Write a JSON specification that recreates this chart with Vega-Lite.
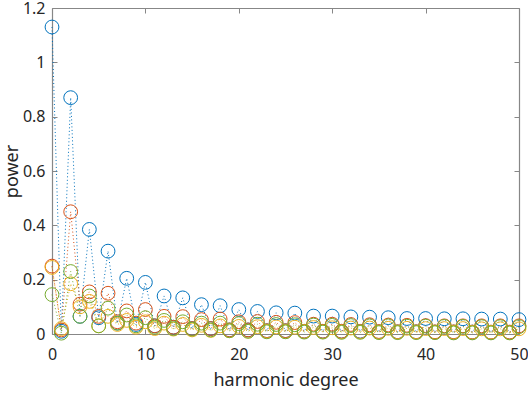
{
  "$schema": "https://vega.github.io/schema/vega-lite/v6.json",
  "width": 467,
  "height": 326,
  "autosize": {"type": "none"},
  "padding": {"left": 52, "top": 8, "right": 9, "bottom": 59},
  "background": "white",
  "datasets": {
    "power": [
      {"d":0,"s":"1","p":1.13},{"d":1,"s":"1","p":0.01},{"d":2,"s":"1","p":0.87},{"d":3,"s":"1","p":0.065},{"d":4,"s":"1","p":0.385},{"d":5,"s":"1","p":0.06},{"d":6,"s":"1","p":0.305},{"d":7,"s":"1","p":0.04},{"d":8,"s":"1","p":0.205},{"d":9,"s":"1","p":0.035},{"d":10,"s":"1","p":0.19},{"d":11,"s":"1","p":0.03},{"d":12,"s":"1","p":0.14},{"d":13,"s":"1","p":0.025},{"d":14,"s":"1","p":0.133},{"d":15,"s":"1","p":0.02},{"d":16,"s":"1","p":0.108},{"d":17,"s":"1","p":0.02},{"d":18,"s":"1","p":0.104},{"d":19,"s":"1","p":0.015},{"d":20,"s":"1","p":0.09},{"d":21,"s":"1","p":0.015},{"d":22,"s":"1","p":0.083},{"d":23,"s":"1","p":0.012},{"d":24,"s":"1","p":0.078},{"d":25,"s":"1","p":0.012},{"d":26,"s":"1","p":0.077},{"d":27,"s":"1","p":0.01},{"d":28,"s":"1","p":0.066},{"d":29,"s":"1","p":0.01},{"d":30,"s":"1","p":0.066},{"d":31,"s":"1","p":0.01},{"d":32,"s":"1","p":0.063},{"d":33,"s":"1","p":0.01},{"d":34,"s":"1","p":0.062},{"d":35,"s":"1","p":0.008},{"d":36,"s":"1","p":0.06},{"d":37,"s":"1","p":0.008},{"d":38,"s":"1","p":0.057},{"d":39,"s":"1","p":0.008},{"d":40,"s":"1","p":0.057},{"d":41,"s":"1","p":0.007},{"d":42,"s":"1","p":0.056},{"d":43,"s":"1","p":0.007},{"d":44,"s":"1","p":0.056},{"d":45,"s":"1","p":0.007},{"d":46,"s":"1","p":0.055},{"d":47,"s":"1","p":0.006},{"d":48,"s":"1","p":0.055},{"d":49,"s":"1","p":0.006},{"d":50,"s":"1","p":0.053},
      {"d":0,"s":"2","p":0.25},{"d":1,"s":"2","p":0.015},{"d":2,"s":"2","p":0.45},{"d":3,"s":"2","p":0.11},{"d":4,"s":"2","p":0.155},{"d":5,"s":"2","p":0.065},{"d":6,"s":"2","p":0.15},{"d":7,"s":"2","p":0.045},{"d":8,"s":"2","p":0.085},{"d":9,"s":"2","p":0.04},{"d":10,"s":"2","p":0.09},{"d":11,"s":"2","p":0.03},{"d":12,"s":"2","p":0.065},{"d":13,"s":"2","p":0.025},{"d":14,"s":"2","p":0.064},{"d":15,"s":"2","p":0.02},{"d":16,"s":"2","p":0.053},{"d":17,"s":"2","p":0.02},{"d":18,"s":"2","p":0.055},{"d":19,"s":"2","p":0.015},{"d":20,"s":"2","p":0.045},{"d":21,"s":"2","p":0.015},{"d":22,"s":"2","p":0.046},{"d":23,"s":"2","p":0.012},{"d":24,"s":"2","p":0.043},{"d":25,"s":"2","p":0.012},{"d":26,"s":"2","p":0.042},{"d":27,"s":"2","p":0.01},{"d":28,"s":"2","p":0.036},{"d":29,"s":"2","p":0.01},{"d":30,"s":"2","p":0.036},{"d":31,"s":"2","p":0.01},{"d":32,"s":"2","p":0.035},{"d":33,"s":"2","p":0.009},{"d":34,"s":"2","p":0.034},{"d":35,"s":"2","p":0.009},{"d":36,"s":"2","p":0.033},{"d":37,"s":"2","p":0.008},{"d":38,"s":"2","p":0.032},{"d":39,"s":"2","p":0.008},{"d":40,"s":"2","p":0.031},{"d":41,"s":"2","p":0.008},{"d":42,"s":"2","p":0.03},{"d":43,"s":"2","p":0.008},{"d":44,"s":"2","p":0.03},{"d":45,"s":"2","p":0.007},{"d":46,"s":"2","p":0.03},{"d":47,"s":"2","p":0.007},{"d":48,"s":"2","p":0.03},{"d":49,"s":"2","p":0.007},{"d":50,"s":"2","p":0.03},
      {"d":0,"s":"3","p":0.245},{"d":1,"s":"3","p":0.02},{"d":2,"s":"3","p":0.185},{"d":3,"s":"3","p":0.1},{"d":4,"s":"3","p":0.12},{"d":5,"s":"3","p":0.03},{"d":6,"s":"3","p":0.065},{"d":7,"s":"3","p":0.035},{"d":8,"s":"3","p":0.05},{"d":9,"s":"3","p":0.025},{"d":10,"s":"3","p":0.045},{"d":11,"s":"3","p":0.02},{"d":12,"s":"3","p":0.04},{"d":13,"s":"3","p":0.018},{"d":14,"s":"3","p":0.035},{"d":15,"s":"3","p":0.015},{"d":16,"s":"3","p":0.032},{"d":17,"s":"3","p":0.013},{"d":18,"s":"3","p":0.03},{"d":19,"s":"3","p":0.012},{"d":20,"s":"3","p":0.028},{"d":21,"s":"3","p":0.01},{"d":22,"s":"3","p":0.027},{"d":23,"s":"3","p":0.01},{"d":24,"s":"3","p":0.026},{"d":25,"s":"3","p":0.009},{"d":26,"s":"3","p":0.025},{"d":27,"s":"3","p":0.009},{"d":28,"s":"3","p":0.024},{"d":29,"s":"3","p":0.008},{"d":30,"s":"3","p":0.023},{"d":31,"s":"3","p":0.008},{"d":32,"s":"3","p":0.022},{"d":33,"s":"3","p":0.008},{"d":34,"s":"3","p":0.022},{"d":35,"s":"3","p":0.007},{"d":36,"s":"3","p":0.021},{"d":37,"s":"3","p":0.007},{"d":38,"s":"3","p":0.021},{"d":39,"s":"3","p":0.007},{"d":40,"s":"3","p":0.02},{"d":41,"s":"3","p":0.006},{"d":42,"s":"3","p":0.02},{"d":43,"s":"3","p":0.006},{"d":44,"s":"3","p":0.02},{"d":45,"s":"3","p":0.006},{"d":46,"s":"3","p":0.019},{"d":47,"s":"3","p":0.006},{"d":48,"s":"3","p":0.019},{"d":49,"s":"3","p":0.005},{"d":50,"s":"3","p":0.019},
      {"d":0,"s":"4","p":0.145},{"d":1,"s":"4","p":0.003},{"d":2,"s":"4","p":0.23},{"d":3,"s":"4","p":0.065},{"d":4,"s":"4","p":0.14},{"d":5,"s":"4","p":0.03},{"d":6,"s":"4","p":0.095},{"d":7,"s":"4","p":0.04},{"d":8,"s":"4","p":0.07},{"d":9,"s":"4","p":0.03},{"d":10,"s":"4","p":0.06},{"d":11,"s":"4","p":0.025},{"d":12,"s":"4","p":0.05},{"d":13,"s":"4","p":0.02},{"d":14,"s":"4","p":0.045},{"d":15,"s":"4","p":0.018},{"d":16,"s":"4","p":0.04},{"d":17,"s":"4","p":0.015},{"d":18,"s":"4","p":0.04},{"d":19,"s":"4","p":0.012},{"d":20,"s":"4","p":0.038},{"d":21,"s":"4","p":0.01},{"d":22,"s":"4","p":0.036},{"d":23,"s":"4","p":0.008},{"d":24,"s":"4","p":0.035},{"d":25,"s":"4","p":0.008},{"d":26,"s":"4","p":0.034},{"d":27,"s":"4","p":0.007},{"d":28,"s":"4","p":0.033},{"d":29,"s":"4","p":0.007},{"d":30,"s":"4","p":0.032},{"d":31,"s":"4","p":0.006},{"d":32,"s":"4","p":0.031},{"d":33,"s":"4","p":0.006},{"d":34,"s":"4","p":0.03},{"d":35,"s":"4","p":0.005},{"d":36,"s":"4","p":0.03},{"d":37,"s":"4","p":0.005},{"d":38,"s":"4","p":0.029},{"d":39,"s":"4","p":0.005},{"d":40,"s":"4","p":0.029},{"d":41,"s":"4","p":0.005},{"d":42,"s":"4","p":0.028},{"d":43,"s":"4","p":0.004},{"d":44,"s":"4","p":0.028},{"d":45,"s":"4","p":0.004},{"d":46,"s":"4","p":0.027},{"d":47,"s":"4","p":0.004},{"d":48,"s":"4","p":0.027},{"d":49,"s":"4","p":0.004},{"d":50,"s":"4","p":0.027}
    ]
  },
  "data": {"name": "power"},
  "config": {
    "view": {"stroke": null},
    "font": "Noto Sans",
    "axis": {
      "grid": false,
      "domainColor": "#878787",
      "domainWidth": 1.2,
      "tickColor": "#878787",
      "tickWidth": 1,
      "labelColor": "#262626",
      "labelFontSize": 16,
      "labelFont": "Noto Sans",
      "titleColor": "#262626",
      "titleFontSize": 18,
      "titleFontWeight": "normal",
      "titleFont": "Noto Sans"
    }
  },
  "layer": [
    {
      "mark": {"type": "line", "strokeDash": [1, 2.5], "strokeWidth": 1},
      "encoding": {
        "x": {"field": "d", "type": "quantitative", "scale": {"domain": [0, 50], "nice": false},
              "axis": {"orient": "bottom", "values": [0, 10, 20, 30, 40, 50], "ticks": false, "title": "harmonic degree", "labelPadding": 12, "titlePadding": 9, "labelFlush": false}},
        "y": {"field": "p", "type": "quantitative", "scale": {"domain": [0, 1.2], "nice": false},
              "axis": {"orient": "left", "values": [0, 0.2, 0.4, 0.6, 0.8, 1, 1.2], "ticks": false, "format": "~f", "title": "power", "labelPadding": 7, "titlePadding": 1, "labelFlush": false}},
        "color": {"field": "s", "type": "nominal", "legend": null,
                  "scale": {"domain": ["1", "2", "3", "4"], "range": ["#0072BD", "#D95319", "#EDB120", "#77AC30"]}},
        "order": {"field": "d", "type": "quantitative"}
      }
    },
    {
      "mark": {"type": "point", "shape": "circle", "filled": false, "size": 190, "strokeWidth": 1, "opacity": 1},
      "encoding": {
        "x": {"field": "d", "type": "quantitative", "axis": null},
        "y": {"field": "p", "type": "quantitative", "axis": null},
        "color": {"field": "s", "type": "nominal", "legend": null}
      }
    },
    {
      "mark": {"type": "point", "opacity": 0},
      "encoding": {
        "x": {"field": "d", "type": "quantitative",
              "axis": {"orient": "top", "values": [0, 10, 20, 30, 40, 50], "labels": false, "tickSize": -5, "title": null}},
        "y": {"field": "p", "type": "quantitative",
              "axis": {"orient": "right", "values": [0, 0.2, 0.4, 0.6, 0.8, 1, 1.2], "labels": false, "tickSize": -5, "title": null}}
      }
    },
    {
      "mark": {"type": "point", "opacity": 0},
      "encoding": {
        "x": {"field": "d", "type": "quantitative",
              "axis": {"orient": "bottom", "values": [0, 10, 20, 30, 40, 50], "labels": false, "domain": false, "tickSize": -5, "title": null}},
        "y": {"field": "p", "type": "quantitative",
              "axis": {"orient": "left", "values": [0, 0.2, 0.4, 0.6, 0.8, 1, 1.2], "labels": false, "domain": false, "tickSize": -5, "title": null}}
      }
    }
  ],
  "resolve": {"axis": {"x": "independent", "y": "independent"}}
}
